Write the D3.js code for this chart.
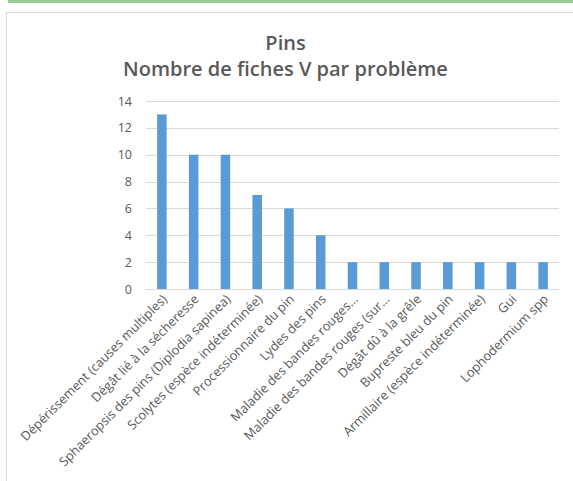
<!DOCTYPE html>
<html><head><meta charset="utf-8">
<script src="https://cdn.jsdelivr.net/npm/d3@7"></script>
<style>body{margin:0;background:#fff;}svg{display:block;}</style>
</head><body>
<script>
const categories = [
  "Dépérissement (causes multiples)",
  "Dégât lié à la sécheresse",
  "Sphaeropsis des pins (Diplodia sapinea)",
  "Scolytes (espèce indéterminée)",
  "Processionnaire du pin",
  "Lydes des pins",
  "Maladie des bandes rouges…",
  "Maladie des bandes rouges (sur…",
  "Dégât dû à la grêle",
  "Bupreste bleu du pin",
  "Armillaire (espèce indéterminée)",
  "Gui",
  "Lophodermium spp"
];
const values = [13, 10, 10, 7, 6, 4, 2, 2, 2, 2, 2, 2, 2];
const yTicks = [0, 2, 4, 6, 8, 10, 12, 14];
const titleLines = ["Pins", "Nombre de fiches V par problème"];

const W = 573, H = 481;
const svg = d3.select("body").append("svg").attr("width", W).attr("height", H);
const font = "'Open Sans', sans-serif";
const txt = "#595959";

// top green band
svg.append("rect").attr("x", 8).attr("y", 0).attr("width", W - 8).attr("height", 3).attr("fill", "#9ccf98");
// chart frame
svg.append("rect").attr("x", 6.5).attr("y", 12.5).attr("width", W + 10).attr("height", H + 10)
  .attr("fill", "#fff").attr("stroke", "#d9d9d9").attr("stroke-width", 1);

// title
svg.append("text").attr("x", 285.5).attr("y", 50).attr("text-anchor", "middle")
  .attr("font-family", font).attr("font-size", 20).attr("font-weight", 600).attr("fill", txt).text(titleLines[0]);
svg.append("text").attr("x", 285.5).attr("y", 75.5).attr("text-anchor", "middle")
  .attr("font-family", font).attr("font-size", 20).attr("font-weight", 600).attr("fill", txt).text(titleLines[1]);

const x = d3.scaleBand().domain(categories).range([146, 559]).paddingInner(0.7).paddingOuter(0.35);
const y = d3.scaleLinear().domain([0, 14]).range([289, 101]);

// gridlines
svg.append("g").selectAll("line").data(yTicks).join("line")
  .attr("x1", 146).attr("x2", 559)
  .attr("y1", d => Math.round(y(d)) + 0.5).attr("y2", d => Math.round(y(d)) + 0.5)
  .attr("stroke", "#d9d9d9").attr("stroke-width", 1);

// y axis labels
const yAxis = d3.axisLeft(y).tickValues(yTicks).tickSize(0).tickPadding(0);
const gy = svg.append("g").attr("transform", "translate(132,0)").call(yAxis);
gy.select(".domain").remove();
gy.selectAll("text").attr("font-family", font).attr("font-size", 12.5).attr("fill", txt);

// bars
svg.append("g").selectAll("rect").data(values).join("rect")
  .attr("x", (d, i) => x(categories[i]))
  .attr("width", x.bandwidth())
  .attr("y", d => y(d))
  .attr("height", d => y(0) - y(d))
  .attr("fill", "#5b9bd5");

// x axis labels
const xAxis = d3.axisBottom(x).tickSize(0).tickPadding(0);
const gx = svg.append("g").attr("transform", "translate(0,289)").call(xAxis);
gx.select(".domain").remove();
gx.selectAll("text")
  .attr("font-family", font).attr("font-size", 12.8).attr("fill", txt)
  .attr("text-anchor", "end").attr("dy", null).attr("y", 0)
  .attr("transform", "translate(6,11) rotate(-45)");
</script>
</body></html>
